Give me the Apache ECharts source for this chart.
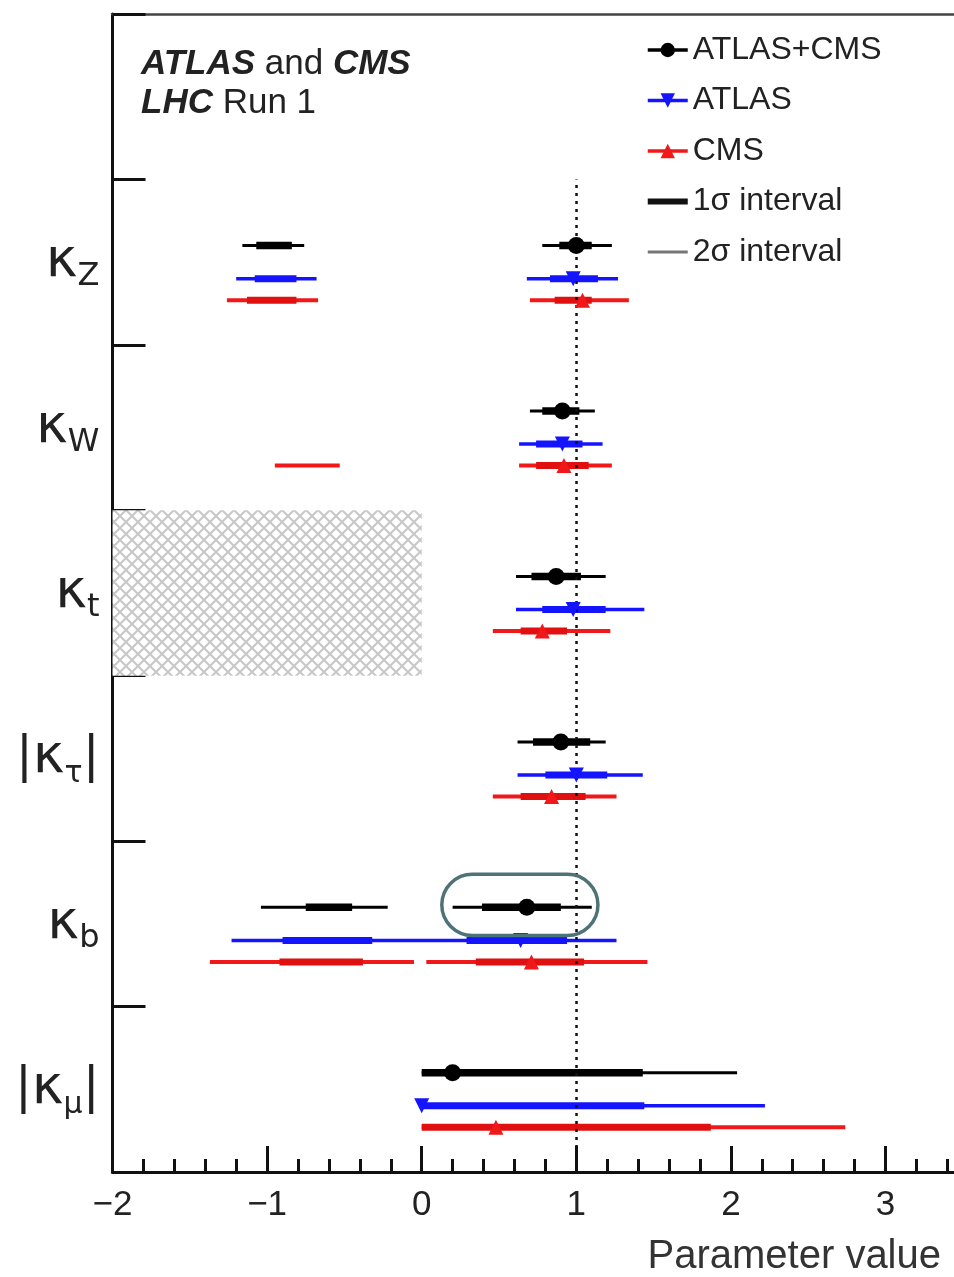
<!DOCTYPE html>
<html>
<head>
<meta charset="utf-8">
<script src="https://cdn.jsdelivr.net/npm/echarts@6.0.0/dist/echarts.min.js"></script>
<style>
html,body{margin:0;padding:0;background:#fff;}
#chart{width:954px;height:1277px;}
</style>
</head>
<body>
<div id="chart"></div>
<script>
// ---- Data (rows listed top to bottom) ----
const categories = ['κ_Z', 'κ_W', 'κ_t', '|κ_τ|', 'κ_b', '|κ_μ|'];
const xTicks = [-2, -1, 0, 1, 2, 3];

const combCentral = [1.00, 0.91, 0.87, 0.90, 0.68, 0.20];
const comb1s = [
  [[-1.07, -0.84], [0.89, 1.10]],
  [[0.78, 1.02]],
  [[0.71, 1.03]],
  [[0.72, 1.09]],
  [[-0.75, -0.45], [0.39, 0.90]],
  [[0.00, 1.43]]
];
const comb2s = [
  [[-1.16, -0.76], [0.78, 1.23]],
  [[0.70, 1.12]],
  [[0.61, 1.19]],
  [[0.62, 1.19]],
  [[-1.04, -0.22], [0.20, 1.10]],
  [[0.00, 2.04]]
];

const atlasCentral = [0.98, 0.91, 0.98, 1.00, 0.64, 0.00];
const atlas1s = [
  [[-1.08, -0.81], [0.83, 1.14]],
  [[0.74, 1.04]],
  [[0.78, 1.19]],
  [[0.80, 1.20]],
  [[-0.90, -0.32], [0.29, 0.94]],
  [[0.00, 1.44]]
];
const atlas2s = [
  [[-1.20, -0.68], [0.68, 1.27]],
  [[0.63, 1.17]],
  [[0.61, 1.44]],
  [[0.62, 1.43]],
  [[-1.23, 1.26]],
  [[0.00, 2.22]]
];

const cmsCentral = [1.04, 0.92, 0.78, 0.84, 0.71, 0.48];
const cms1s = [
  [[-1.13, -0.81], [0.86, 1.10]],
  [[0.74, 1.08]],
  [[0.64, 0.94]],
  [[0.64, 1.06]],
  [[-0.92, -0.38], [0.35, 1.05]],
  [[0.00, 1.87]]
];
const cms2s = [
  [[-1.26, -0.67], [0.70, 1.34]],
  [[-0.95, -0.53], [0.63, 1.23]],
  [[0.46, 1.22]],
  [[0.46, 1.26]],
  [[-1.37, -0.05], [0.03, 1.46]],
  [[0.00, 2.74]]
];

// excluded region (kappa_t < 0) and highlighted result
const excludedX = [-2, 0];
const excludedRow = 2;
const highlight = { xFrom: 0.13, xTo: 1.14, yFrom: 1.43, yTo: 1.80 };
const smReference = 1;

// ---- Helpers ----
const nRows = categories.length;
const rowBase = i => nRows - 1 - i;
const FONT = "'Liberation Sans', Arial, Helvetica, sans-serif";

function segData(intervals, offset) {
  const out = [];
  intervals.forEach((list, i) => list.forEach(iv => out.push([iv[0], iv[1], rowBase(i) + offset])));
  return out;
}
function barSeries(name, intervals, offset, color, width, z) {
  return {
    type: 'custom', name: name, xAxisIndex: 0, yAxisIndex: 0, silent: true, z: z,
    data: segData(intervals, offset),
    encode: { x: [0, 1], y: 2 },
    renderItem: function (params, api) {
      const p1 = api.coord([api.value(0), api.value(2)]);
      const p2 = api.coord([api.value(1), api.value(2)]);
      return { type: 'line', shape: { x1: p1[0], y1: p1[1], x2: p2[0], y2: p2[1] },
               style: { stroke: color, lineWidth: width, lineCap: 'butt' } };
    }
  };
}
function pointSeries(name, values, offset, color, symbol, size, rotate) {
  return {
    type: 'line', name: name, xAxisIndex: 0, yAxisIndex: 0, z: 10,
    data: values.map((v, i) => [v, rowBase(i) + offset]),
    symbol: symbol, symbolSize: size, symbolRotate: rotate || 0, showSymbol: true,
    lineStyle: { width: 0, opacity: 0, color: color },
    itemStyle: { color: color }, silent: true
  };
}

// hatch pattern
const P = 12;
const pc = document.createElement('canvas');
pc.width = P; pc.height = P;
const g = pc.getContext('2d');
g.fillStyle = '#ffffff'; g.fillRect(0, 0, P, P);
g.strokeStyle = '#c8c8c8'; g.lineWidth = 2.1;
g.beginPath();
g.moveTo(0, 0); g.lineTo(P, P);
g.moveTo(P, 0); g.lineTo(0, P);
g.moveTo(-1, P - 1); g.lineTo(1, P + 1);
g.moveTo(P - 1, -1); g.lineTo(P + 1, 1);
g.stroke();

function catLabel(c) {
  const abs = c.charAt(0) === '|';
  const core = c.replace(/\|/g, '');
  const sub = core.split('_')[1];
  const greek = /[τμ]/.test(sub);
  return (abs ? '{bar||}' : '') + '{k|κ}{' + (greek ? 'g' : 's') + '|' + sub + '}' + (abs ? '{bar||}' : '');
}

const yCats = categories.slice().reverse().concat(['']);

const chart = echarts.init(document.getElementById('chart'), null, { renderer: 'canvas' });
const option = {
  animation: false,
  backgroundColor: '#ffffff',
  textStyle: { fontFamily: FONT },
  title: [
    {
      text: 'Parameter value', right: 8, top: 1232,
      textStyle: { fontFamily: FONT, fontSize: 40, fontWeight: 'normal', color: '#333' }
    },
    {
      text: '{bi|ATLAS} and {bi|CMS}\n{bi|LHC} Run 1', left: 136, top: 40,
      textStyle: {
        fontFamily: FONT, fontSize: 35, fontWeight: 'normal', color: '#222', lineHeight: 39,
        rich: { bi: { fontFamily: FONT, fontSize: 35, fontWeight: 'bold', fontStyle: 'italic', color: '#222', lineHeight: 39 } }
      }
    }
  ],
  legend: {
    orient: 'vertical', left: 646, top: 33, itemWidth: 40, itemHeight: 18, itemGap: 16.5,
    padding: 0, selectedMode: false,
    textStyle: { fontFamily: FONT, fontSize: 32, color: '#222', lineHeight: 34 },
    lineStyle: { width: 3.5, opacity: 1 },
    data: [
      { name: 'ATLAS+CMS' },
      { name: 'ATLAS' },
      { name: 'CMS' },
      { name: '1σ interval', icon: 'path://M0,0H40V6H0Z' },
      { name: '2σ interval', icon: 'path://M0,0H40V3H0Z' }
    ]
  },
  grid: { left: 112.5, top: 14, width: 927.6, height: 1158, containLabel: false, outerBoundsMode: 'none' },
  xAxis: [
    {
      type: 'value', min: xTicks[0], max: 4, interval: 1, position: 'bottom',
      axisLine: { show: true, onZero: false, lineStyle: { color: '#111', width: 3 } },
      axisTick: { show: true, inside: true, length: 26, lineStyle: { color: '#111', width: 3 } },
      minorTick: { show: true, splitNumber: 5, length: 13, lineStyle: { color: '#111', width: 3 } },
      splitLine: { show: false },
      axisLabel: {
        show: true, margin: 16, fontSize: 35, color: '#222', fontFamily: FONT,
        showMaxLabel: false,
        formatter: v => (xTicks.indexOf(v) >= 0 ? String(v).replace('-', '−') : '')
      }
    },
    {
      type: 'value', min: xTicks[0], max: 4, position: 'top',
      axisLine: { show: true, onZero: false, lineStyle: { color: '#444', width: 2.5 } },
      axisTick: { show: false }, axisLabel: { show: false }, splitLine: { show: false }
    }
  ],
  yAxis: [
    {
      type: 'value', min: 0, max: 7, interval: 1, position: 'left',
      axisLine: { show: true, onZero: false, lineStyle: { color: '#111', width: 3 } },
      axisTick: { show: true, inside: true, length: 33, lineStyle: { color: '#111', width: 3 } },
      axisLabel: { show: false }, splitLine: { show: false }
    },
    {
      type: 'category', data: yCats, position: 'left', boundaryGap: true,
      axisLine: { show: false }, axisTick: { show: false }, splitLine: { show: false },
      axisLabel: {
        show: true, margin: 13, interval: 0,
        formatter: v => (v ? catLabel(v) : ''),
        rich: {
          k: { fontFamily: 'DejaVu Sans', fontSize: 54, color: '#222', lineHeight: 62, verticalAlign: 'middle' },
          s: { fontFamily: 'DejaVu Sans', fontSize: 32, color: '#222', lineHeight: 22, verticalAlign: 'bottom' },
          g: { fontFamily: 'DejaVu Sans', fontSize: 30, color: '#222', lineHeight: 22, verticalAlign: 'bottom' },
          bar: { fontFamily: 'DejaVu Sans', fontSize: 50, color: '#222', lineHeight: 62, verticalAlign: 'middle' }
        }
      }
    }
  ],
  series: [
    {
      type: 'line', name: 'excluded', data: [], xAxisIndex: 0, yAxisIndex: 0, silent: true,
      markArea: {
        silent: true,
        itemStyle: { color: { image: pc, repeat: 'repeat' }, opacity: 1 },
        data: [[{ coord: [excludedX[0], rowBase(excludedRow)] }, { coord: [excludedX[1], rowBase(excludedRow) + 1] }]]
      },
      markLine: {
        silent: true, symbol: ['none', 'none'], label: { show: false },
        lineStyle: { color: '#111', width: 2.5, type: [3, 5] },
        data: [[{ coord: [smReference, 0] }, { coord: [smReference, nRows] }]]
      }
    },
    barSeries('comb2s', comb2s, 0.6, '#000000', 3, 3),
    barSeries('comb1s', comb1s, 0.6, '#000000', 7.5, 4),
    barSeries('atlas2s', atlas2s, 0.4, '#1414ff', 3.5, 3),
    barSeries('atlas1s', atlas1s, 0.4, '#1414ff', 7, 4),
    barSeries('cms2s', cms2s, 0.27, '#f01818', 4, 3),
    barSeries('cms1s', cms1s, 0.27, '#e01010', 7, 4),
    pointSeries('ATLAS+CMS', combCentral, 0.6, '#000000', 'circle', 17),
    pointSeries('ATLAS', atlasCentral, 0.4, '#1414ff', 'triangle', 15, 180),
    pointSeries('CMS', cmsCentral, 0.27, '#f01818', 'triangle', 15, 0),
    { type: 'line', name: '1σ interval', data: [], itemStyle: { color: '#111' }, lineStyle: { color: '#111' } },
    { type: 'line', name: '2σ interval', data: [], itemStyle: { color: '#777' }, lineStyle: { color: '#777' } },
    {
      type: 'custom', name: 'highlight', xAxisIndex: 0, yAxisIndex: 0, silent: true, z: 12,
      data: [[highlight.xFrom, highlight.xTo, highlight.yFrom, highlight.yTo]],
      renderItem: function (params, api) {
        const a = api.coord([api.value(0), api.value(3)]);
        const b = api.coord([api.value(1), api.value(2)]);
        const h = b[1] - a[1];
        return { type: 'rect', shape: { x: a[0], y: a[1], width: b[0] - a[0], height: h, r: h / 2 },
                 style: { fill: 'none', stroke: '#4d7378', lineWidth: 3.5 } };
      }
    }
  ]
};
chart.setOption(option);
</script>
</body>
</html>
